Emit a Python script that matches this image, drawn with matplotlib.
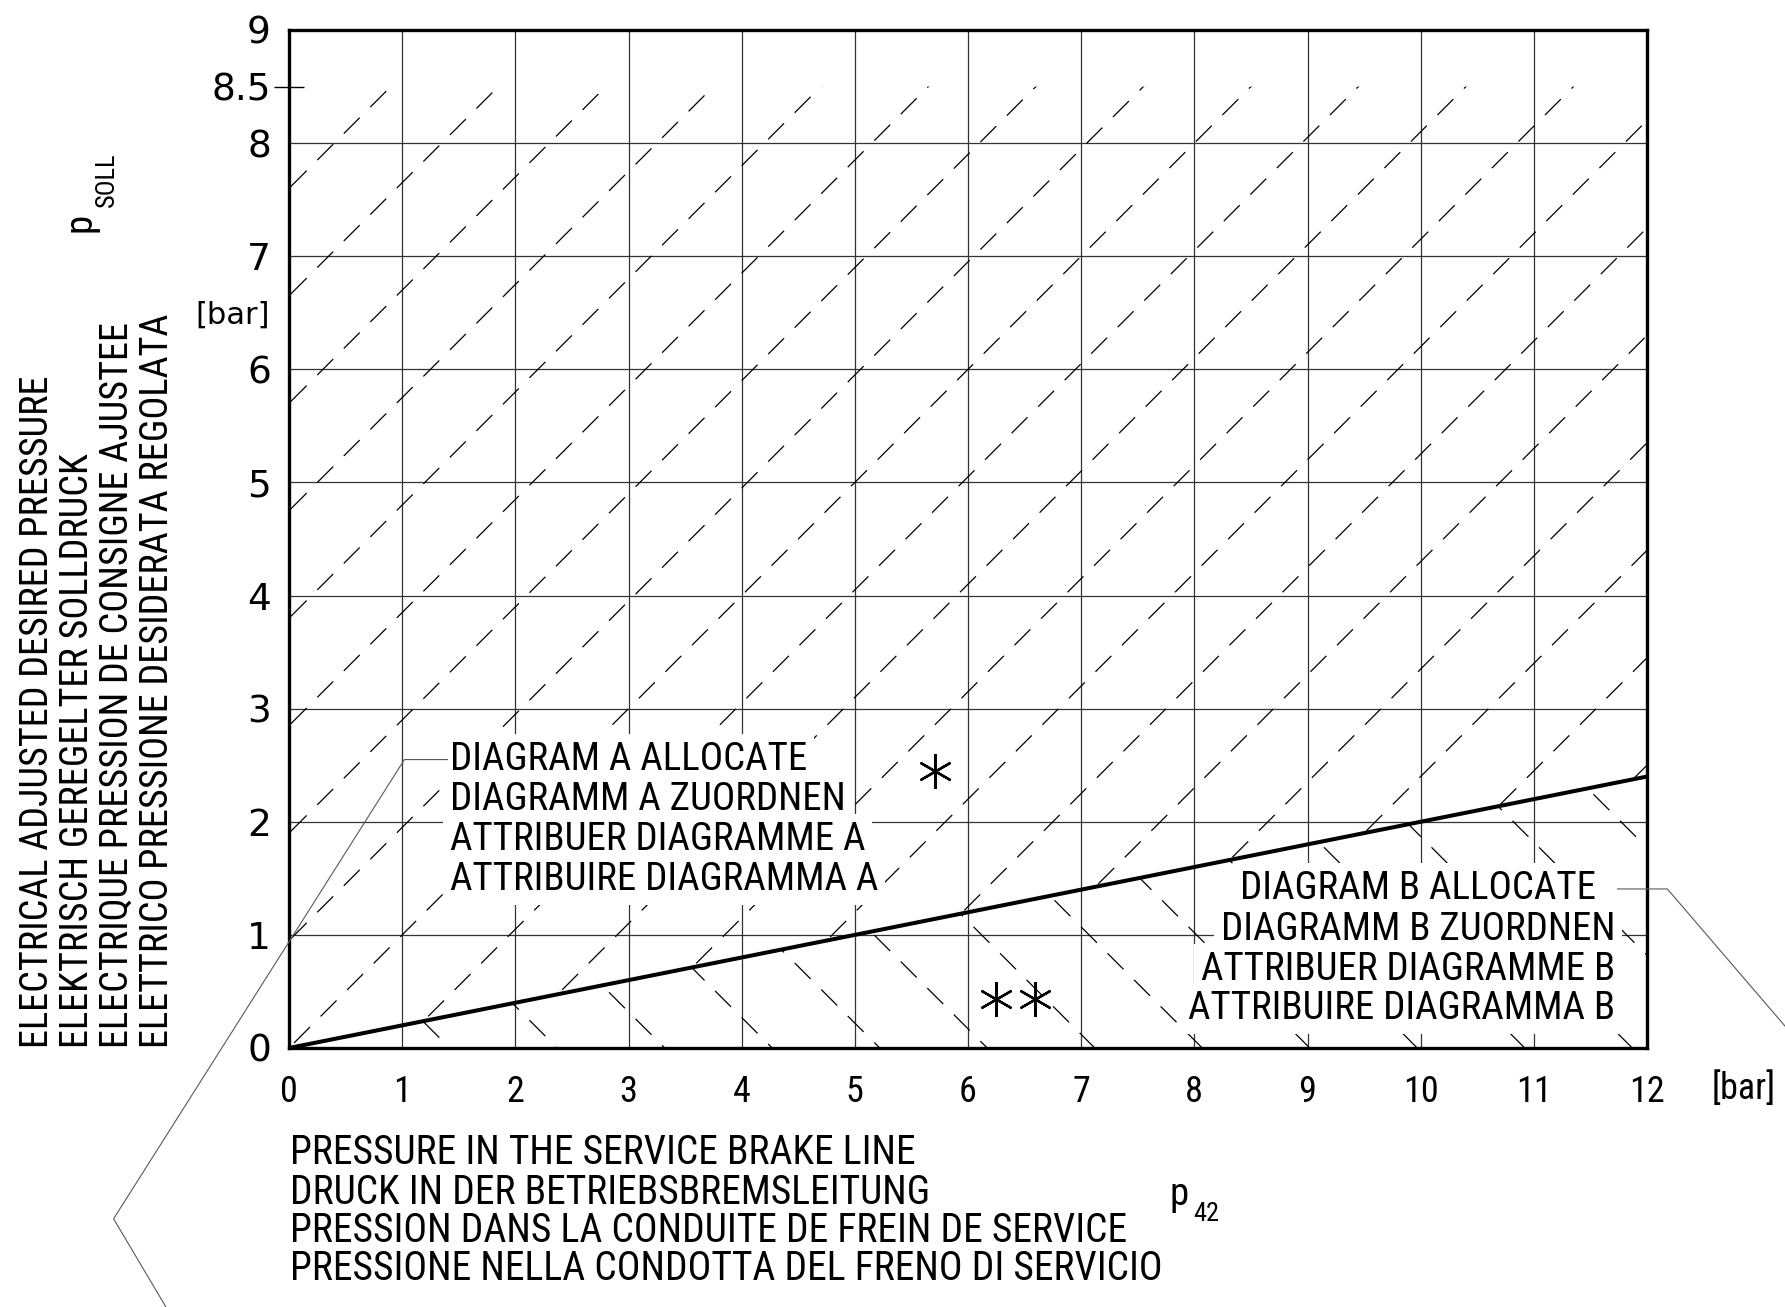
import matplotlib
matplotlib.use("Agg")
import matplotlib.pyplot as plt
import numpy as np
from matplotlib import font_manager
from matplotlib.patches import Polygon

# axis ticks (bar)
x_ticks = list(range(0, 13))
y_ticks = list(range(0, 10))
y_mark = [8.5]

# limit line between diagram A and diagram B: p_soll = 0.2 * p42
limit_x = [0, 12]
limit_y = [0, 2.4]
hatch_top = 8.5

# note marks
note_a_x = [5.71]
note_a_y = [2.45]
note_b_x = [6.25, 6.59]
note_b_y = [0.43, 0.43]

label_a = ["DIAGRAM A ALLOCATE", "DIAGRAMM A ZUORDNEN",
           "ATTRIBUER DIAGRAMME A", "ATTRIBUIRE DIAGRAMMA A"]
label_b = ["DIAGRAM B ALLOCATE", "DIAGRAMM B ZUORDNEN",
           "ATTRIBUER DIAGRAMME B", "ATTRIBUIRE DIAGRAMMA B"]
y_title = ["ELECTRICAL ADJUSTED DESIRED PRESSURE",
           "ELEKTRISCH GEREGELTER SOLLDRUCK",
           "ELECTRIQUE PRESSION DE CONSIGNE AJUSTEE",
           "ELETTRICO PRESSIONE DESIDERATA REGOLATA"]
x_title = ["PRESSURE IN THE SERVICE BRAKE LINE",
           "DRUCK IN DER BETRIEBSBREMSLEITUNG",
           "PRESSION DANS LA CONDUITE DE FREIN DE SERVICE",
           "PRESSIONE NELLA CONDOTTA DEL FRENO DI SERVICIO"]

# pick the narrowest lettering available
fonts = font_manager.fontManager.ttflist
names = {f.name for f in fonts}
cond = {f.name for f in fonts if "condensed" in str(f.stretch)}
if "Liberation Sans Narrow" in names:
    narrow, fs = dict(family="Liberation Sans Narrow"), 27
elif "Roboto Condensed" in names:
    narrow, fs = dict(family="Roboto Condensed"), 28
elif "DejaVu Sans" in cond:
    narrow, fs = dict(family="DejaVu Sans", stretch="condensed"), 25
elif "Roboto" in names:
    narrow, fs = dict(family="Roboto"), 25
else:
    narrow, fs = dict(family="DejaVu Sans"), 22
round_font = dict(family="DejaVu Sans")

W, H = 1785, 1307
fig = plt.figure(figsize=(W / 100, H / 100), dpi=100)
ax = fig.add_axes([289 / W, 1 - 1048 / H, 1358 / W, 1018 / H])


def fpos(px, py):
    return px / W, 1 - py / H


ax.set_xlim(0, 12)
ax.set_ylim(0, 9)

# grid
ax.set_axisbelow(True)
ax.grid(True, which="major", color="0.2", lw=0.9)

for s in ax.spines.values():
    s.set_linewidth(2.4)
    s.set_color("black")

ax.set_xticks(x_ticks, labels=[str(v) for v in x_ticks], fontsize=fs - 2, **narrow)
ax.set_yticks(y_ticks, labels=[str(v) for v in y_ticks], fontsize=27, **round_font)
ax.set_yticks(y_mark, labels=[str(v) for v in y_mark], minor=True, fontsize=27, **round_font)
ax.tick_params(axis="x", which="major", length=0, pad=19)
ax.tick_params(axis="y", which="major", length=0, pad=13)
ax.tick_params(axis="y", which="minor", direction="inout", length=22, width=1.0, pad=2)

# hatching: rising lines above the limit line, falling lines below it
step = 0.95
rise = step * np.arange(-12, 10)
fall = 0.47 + step * np.arange(0, 16)
region_a = Polygon([(limit_x[0], limit_y[0]), (limit_x[1], limit_y[1]),
                    (limit_x[1], hatch_top), (limit_x[0], hatch_top)],
                   closed=True, transform=ax.transData)
region_b = Polygon([(limit_x[0], limit_y[0]), (limit_x[1], 0),
                    (limit_x[1], limit_y[1])],
                   closed=True, transform=ax.transData)
xx = np.array([-3.0, 15.0])
for c in rise:
    ln, = ax.plot(xx, xx + c, color="black", lw=0.9, dashes=(18, 12), zorder=2)
    ln.set_clip_path(region_a)
for d in fall:
    ln, = ax.plot(xx, d - xx, color="black", lw=0.9, dashes=(18, 12), zorder=2)
    ln.set_clip_path(region_b)

ax.plot(limit_x, limit_y, color="black", lw=2.9, solid_capstyle="butt", zorder=5)

# note marks (six-armed asterisks with a vertical arm)
ax.plot(note_a_x + note_b_x, note_a_y + note_b_y, linestyle="none",
        marker=(6, 2, 0), ms=25, mew=1.7, color="black", zorder=6)

box = dict(facecolor="white", edgecolor="none", pad=5)
rows_a = [2.549, 2.195, 1.84, 1.486]
for txt, y in zip(label_a, rows_a):
    ax.text(1.42, y, txt, fontsize=fs, ha="left", va="center",
            bbox=box, zorder=4, **narrow)
rows_b = [1.406, 1.052, 0.69, 0.345]
right_b = [11.55, 11.72, 11.72, 11.72]
for txt, x, y in zip(label_b, right_b, rows_b):
    ax.text(x, y, txt, fontsize=fs, ha="right", va="center",
            bbox=box, zorder=4, **narrow)

# leader lines
ax.plot([1.40, 1.02, -1.55, -0.85], [2.55, 2.55, -1.51, -2.69],
        color="0.35", lw=0.8, clip_on=False, zorder=7)
ax.plot([11.74, 12.18, 13.6], [1.406, 1.406, -0.25],
        color="0.35", lw=0.8, clip_on=False, zorder=7)

# axis titles
for txt, cx in zip(y_title, [37, 77, 117, 157]):
    fig.text(*fpos(cx, 1048), txt, rotation=90, rotation_mode="anchor",
             ha="left", va="center", fontsize=fs - 0.5, **narrow)
fig.text(*fpos(90, 232), "p", rotation=90, rotation_mode="anchor",
         ha="left", va="baseline", fontsize=28, **narrow)
fig.text(*fpos(114, 207), "SOLL", rotation=90, rotation_mode="anchor",
         ha="left", va="baseline", fontsize=19, **narrow)
fig.text(*fpos(233, 315), "[bar]", ha="center", va="center", fontsize=22, **round_font)

for txt, cy in zip(x_title, [1153, 1192, 1231, 1269]):
    fig.text(*fpos(290, cy), txt, ha="left", va="center", fontsize=fs + 0.5, **narrow)
fig.text(*fpos(1169, 1205), "p", ha="left", va="baseline", fontsize=28, **narrow)
fig.text(*fpos(1193, 1221), "42", ha="left", va="baseline", fontsize=19, **narrow)
fig.text(*fpos(1744, 1089), "[bar]", ha="center", va="center", fontsize=fs - 2, **narrow)

fig.savefig("out.png", dpi=100, facecolor="white")
